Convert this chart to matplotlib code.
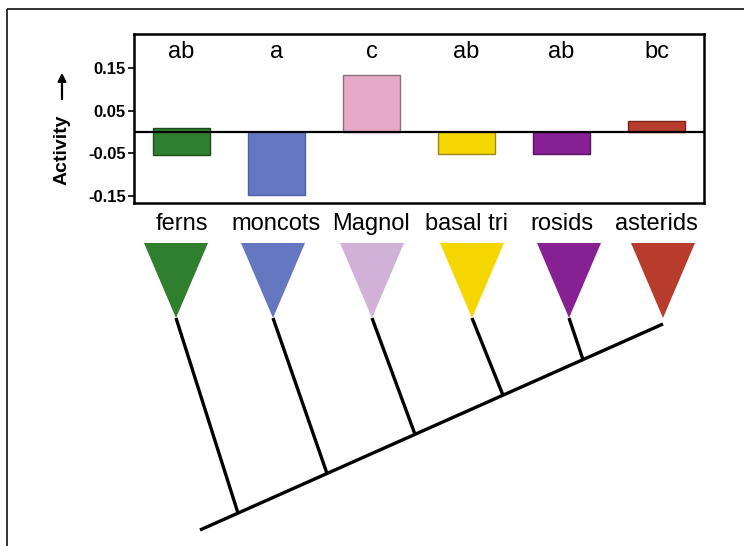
import matplotlib.pyplot as plt
from matplotlib.patches import Polygon, Rectangle

plt.rcParams["font.family"] = ["Liberation Sans", "DejaVu Sans"]

# bar chart data
groups = ["ferns", "moncots", "Magnol", "basal tri", "rosids", "asterids"]
activity = [-0.053, -0.148, 0.134, -0.052, -0.052, 0.026]
bar_base = [0.009, 0.0, 0.0, 0.0, 0.0, 0.0]
letters = ["ab", "a", "c", "ab", "ab", "bc"]
yticks = [0.15, 0.05, -0.05, -0.15]
bar_colors = ["#2f7f2f", "#6677c1", "#e8a9c6", "#f6d600", "#872093", "#b83c2b"]
edge_colors = ["#1d4d1d", "#5060a8", "#8a6f7c", "#9a8a20", "#5a1460", "#7a2518"]
tri_colors = ["#2f7f2f", "#6677c1", "#d2b1d9", "#f6d600", "#872093", "#b83c2b"]

# tree layout (pixel space of the 744x546 figure)
tip_x = [176, 273, 372, 472, 569, 663]
node_x = [238, 327, 415, 503, 583, 663]
spine = ((200, 530), (663, 324))
TRI_TOP, TRI_TIP, TRI_HALF = 243, 318, 32

fig = plt.figure(figsize=(7.44, 5.46), dpi=100)

# tree + frame live in a full-figure axes in pixel coords
tree = fig.add_axes([0, 0, 1, 1])
tree.set_xlim(0, 744)
tree.set_ylim(546, 0)
tree.axis("off")
tree.add_patch(Rectangle((7, 9), 760, 560, fill=False, ec="#222222", lw=1.3))

(x0, y0), (x1, y1) = spine
slope = (y1 - y0) / (x1 - x0)
tree.plot([x0, x1], [y0, y1], color="black", lw=2.4, solid_capstyle="butt")
for cx, nx, col in zip(tip_x, node_x, tri_colors):
    tree.add_patch(Polygon([(cx - TRI_HALF, TRI_TOP), (cx + TRI_HALF, TRI_TOP), (cx, TRI_TIP)],
                           closed=True, fc=col, ec="none"))
    ny = y0 + slope * (nx - x0)
    if nx != x1:
        tree.plot([cx, nx], [TRI_TIP, ny], color="black", lw=2.4, solid_capstyle="butt")

# bar panel
ax = fig.add_axes([134 / 744, 1 - 203 / 546, 570 / 744, 169 / 546])
x = range(len(groups))
ax.bar(x, [a - b for a, b in zip(activity, bar_base)], bottom=bar_base, width=0.59,
       color=bar_colors, edgecolor=edge_colors, linewidth=1.0, zorder=2)
ax.axhline(0, color="black", lw=1.6, zorder=3)
ax.set_xlim(-0.5, len(groups) - 0.5)
ax.set_ylim(-0.166, 0.23)
ax.set_yticks(yticks)
ax.set_yticklabels([f"{v:.2f}" for v in yticks], fontsize=12, fontweight="bold")
ax.tick_params(axis="y", length=4, width=1.2, pad=2)
ax.set_xticks(list(x))
ax.set_xticklabels(groups, fontsize=17)
ax.tick_params(axis="x", length=0, pad=7)
for s in ax.spines.values():
    s.set_linewidth(1.8)
for i, lab in enumerate(letters):
    ax.text(i, 0.1875, lab, ha="center", va="center", fontsize=17)

fig.text(62 / 744, 1 - 150 / 546, "Activity", rotation=90, ha="center", va="center",
         fontsize=14, fontweight="bold")
tree.annotate("", xy=(62, 70), xytext=(62, 102),
              arrowprops=dict(arrowstyle="-|>", color="black", lw=1.6, mutation_scale=12))

fig.savefig("out.png", dpi=100)
